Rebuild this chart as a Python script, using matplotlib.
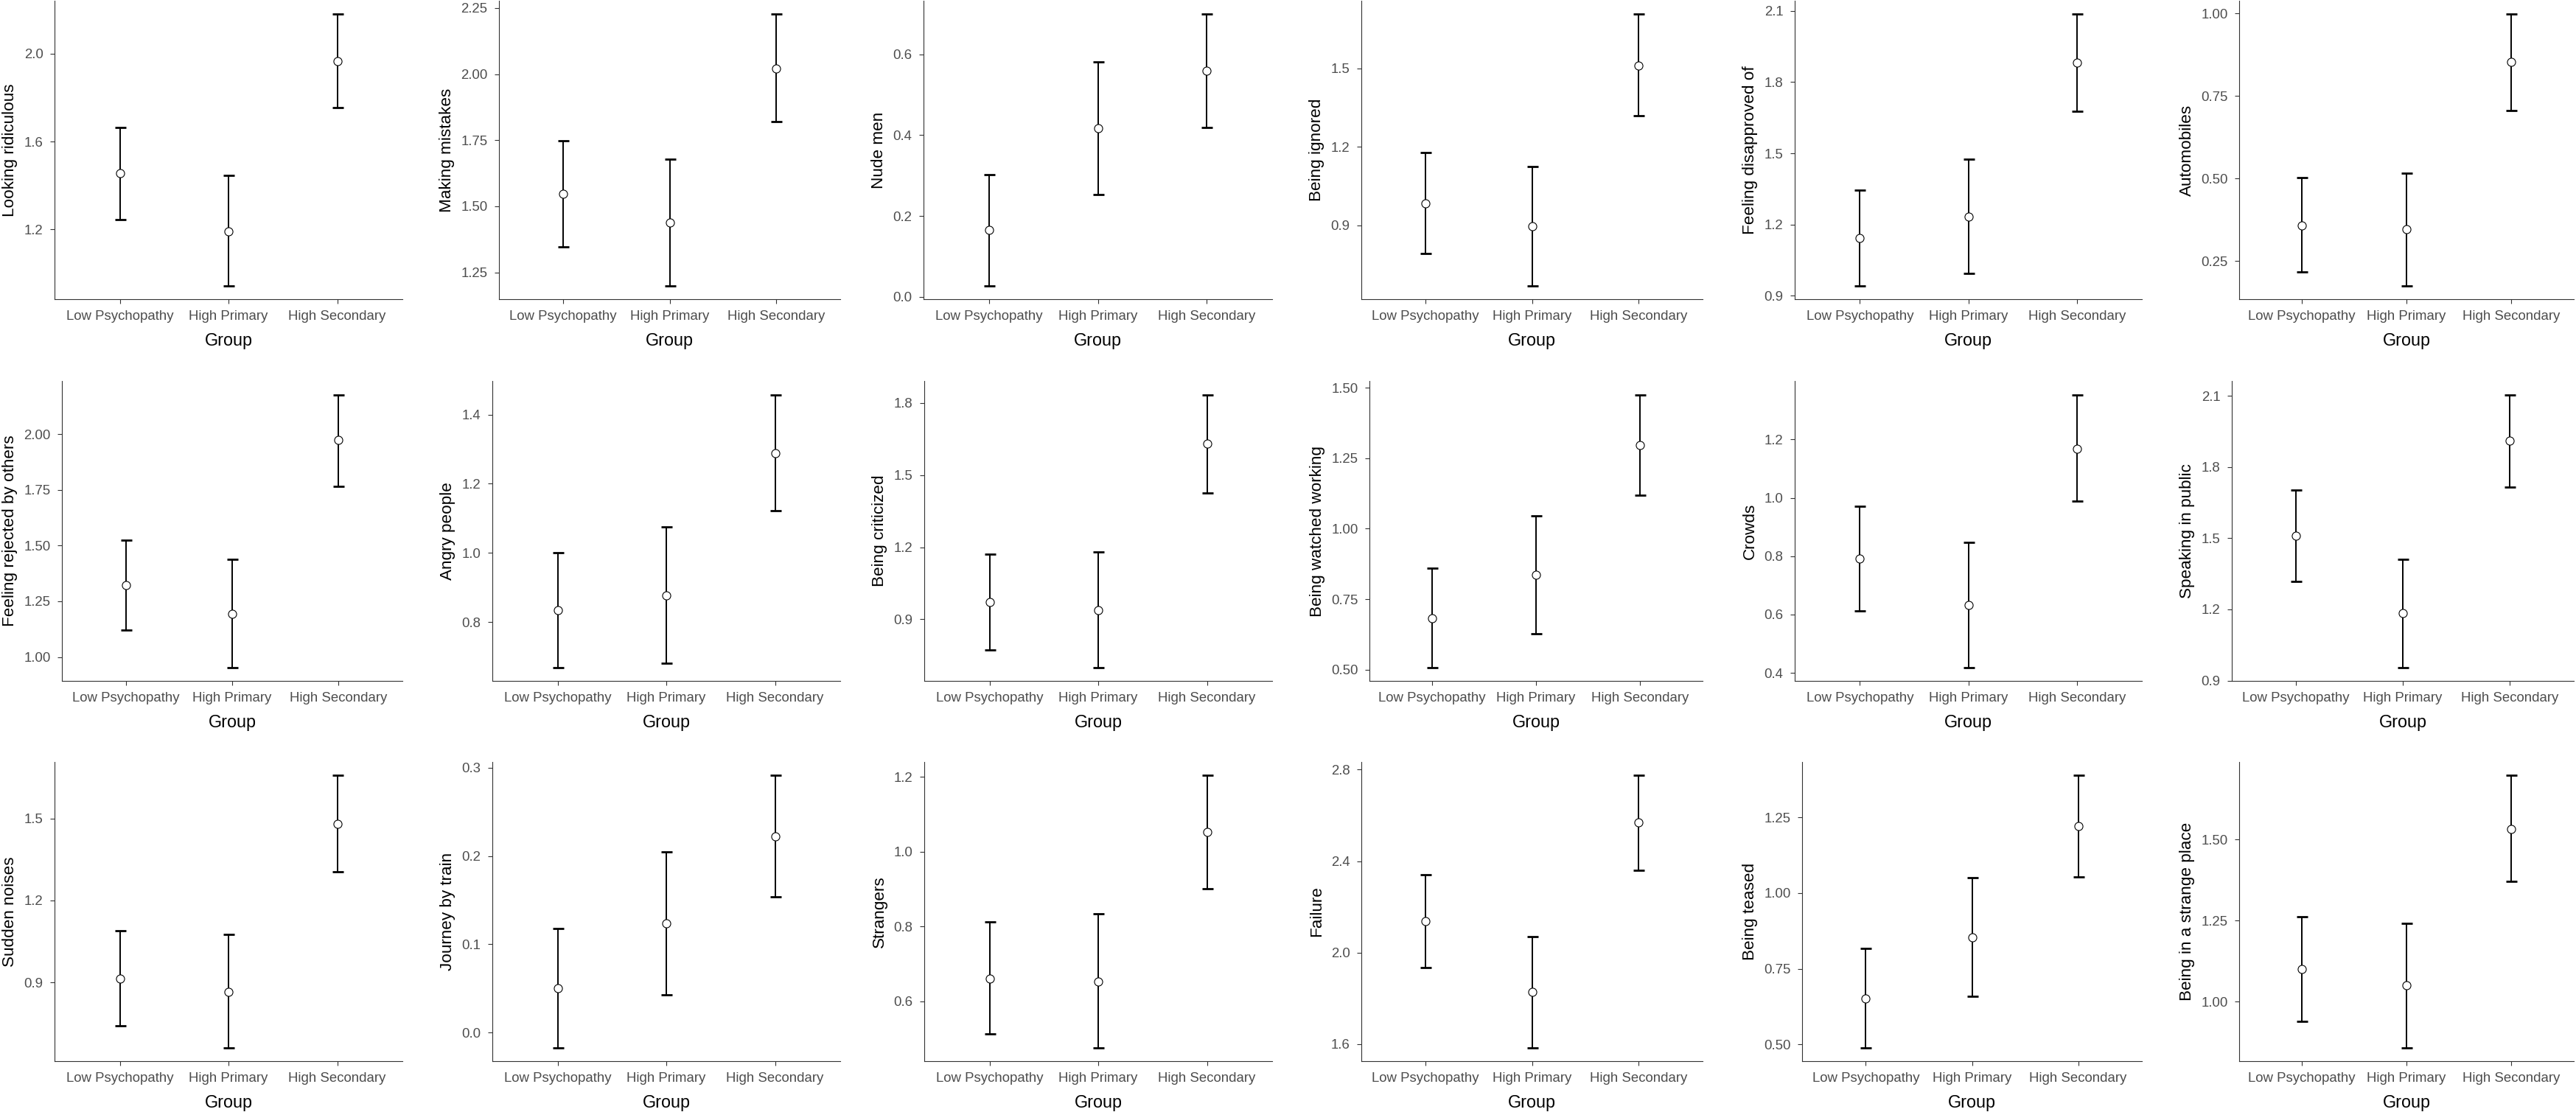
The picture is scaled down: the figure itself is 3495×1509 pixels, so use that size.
import matplotlib
matplotlib.use('Agg')
import matplotlib.pyplot as plt

plt.rcParams['font.family'] = ['Liberation Sans', 'DejaVu Sans']

groups = ['Low Psychopathy', 'High Primary', 'High Secondary']

items = ['Looking ridiculous', 'Making mistakes', 'Nude men', 'Being ignored',
         'Feeling disapproved of', 'Automobiles',
         'Feeling rejected by others', 'Angry people', 'Being criticized',
         'Being watched working', 'Crowds', 'Speaking in public',
         'Sudden noises', 'Journey by train', 'Strangers', 'Failure',
         'Being teased', 'Being in a strange place']

# Low Psychopathy: mean, lower, upper
mean_low = [1.455, 1.546, 0.165, 0.985, 1.144, 0.359,
            1.324, 0.834, 0.970, 0.683, 0.792, 1.510,
            0.914, 0.050, 0.661, 2.138, 0.653, 1.101]
lo_low = [1.245, 1.346, 0.028, 0.794, 0.942, 0.217,
          1.122, 0.669, 0.771, 0.508, 0.612, 1.319,
          0.741, -0.017, 0.513, 1.935, 0.490, 0.939]
hi_low = [1.665, 1.747, 0.303, 1.178, 1.345, 0.503,
          1.525, 1.001, 1.172, 0.859, 0.971, 1.703,
          1.089, 0.118, 0.813, 2.341, 0.818, 1.261]

# High Primary
mean_pri = [1.193, 1.439, 0.418, 0.898, 1.233, 0.346,
            1.195, 0.877, 0.939, 0.836, 0.633, 1.184,
            0.867, 0.124, 0.653, 1.828, 0.855, 1.050]
lo_pri = [0.945, 1.200, 0.254, 0.670, 0.995, 0.176,
          0.954, 0.681, 0.700, 0.627, 0.419, 0.956,
          0.662, 0.043, 0.476, 1.585, 0.660, 0.859]
hi_pri = [1.446, 1.678, 0.582, 1.126, 1.475, 0.517,
          1.438, 1.075, 1.180, 1.045, 0.848, 1.412,
          1.075, 0.205, 0.834, 2.070, 1.051, 1.242]

# High Secondary
mean_sec = [1.966, 2.021, 0.559, 1.510, 1.882, 0.852,
            1.973, 1.289, 1.631, 1.296, 1.169, 1.910,
            1.481, 0.222, 1.053, 2.568, 1.221, 1.533]
lo_sec = [1.753, 1.819, 0.419, 1.318, 1.677, 0.706,
          1.767, 1.122, 1.427, 1.118, 0.988, 1.716,
          1.306, 0.154, 0.901, 2.360, 1.054, 1.371]
hi_sec = [2.178, 2.226, 0.699, 1.706, 2.086, 0.997,
          2.177, 1.458, 1.835, 1.476, 1.354, 2.105,
          1.657, 0.291, 1.204, 2.774, 1.388, 1.697]

yticks = [['1.2', '1.6', '2.0'], ['1.25', '1.50', '1.75', '2.00', '2.25'],
          ['0.0', '0.2', '0.4', '0.6'], ['0.9', '1.2', '1.5'],
          ['0.9', '1.2', '1.5', '1.8', '2.1'], ['0.25', '0.50', '0.75', '1.00'],
          ['1.00', '1.25', '1.50', '1.75', '2.00'], ['0.8', '1.0', '1.2', '1.4'],
          ['0.9', '1.2', '1.5', '1.8'], ['0.50', '0.75', '1.00', '1.25', '1.50'],
          ['0.4', '0.6', '0.8', '1.0', '1.2'], ['0.9', '1.2', '1.5', '1.8', '2.1'],
          ['0.9', '1.2', '1.5'], ['0.0', '0.1', '0.2', '0.3'],
          ['0.6', '0.8', '1.0', '1.2'], ['1.6', '2.0', '2.4', '2.8'],
          ['0.50', '0.75', '1.00', '1.25'], ['1.00', '1.25', '1.50']]

W, H = 3495, 1509
fig = plt.figure(figsize=(W / 100, H / 100), dpi=100)

# panel frame in pixels
lefts = [[74, 677, 1253, 1847, 2435, 3038],
         [84, 668, 1254, 1858, 2435, 3028],
         [74, 668, 1254, 1847, 2445, 3038]]
rights = [546, 1140, 1726, 2310, 2906, 3492]
tops = [1, 517, 1034]
bottoms = [406, 924, 1440]

for i, item in enumerate(items):
    r, c = divmod(i, 6)
    x0 = lefts[r][c]
    ax = fig.add_axes([x0 / W, 1 - bottoms[r] / H,
                       (rights[c] - x0) / W, (bottoms[r] - tops[r]) / H])
    m = [mean_low[i], mean_pri[i], mean_sec[i]]
    lo = [lo_low[i], lo_pri[i], lo_sec[i]]
    hi = [hi_low[i], hi_pri[i], hi_sec[i]]
    xs = [1, 2, 3]
    yerr = [[m[k] - lo[k] for k in range(3)], [hi[k] - m[k] for k in range(3)]]
    ax.errorbar(xs, m, yerr=yerr, fmt='none', ecolor='black', elinewidth=1.4,
                capsize=5.4, capthick=2.0, zorder=2)
    ax.plot(xs, m, 'o', markersize=8, markerfacecolor='white',
            markeredgecolor='black', markeredgewidth=0.8, zorder=3)
    span = max(hi) - min(lo)
    ax.set_ylim(min(lo) - 0.05 * span, max(hi) + 0.05 * span)
    ax.set_xlim(0.4, 3.6)
    ax.set_xticks(xs)
    ax.set_xticklabels(groups)
    ax.set_yticks([float(t) for t in yticks[i]])
    ax.set_yticklabels(yticks[i])
    ax.tick_params(axis='both', labelsize=13.4, labelcolor='#4D4D4D',
                   color='#333333', length=4.6, width=0.8, pad=6.5)
    for s in ['top', 'right']:
        ax.spines[s].set_visible(False)
    for s in ['left', 'bottom']:
        ax.spines[s].set_linewidth(0.8)
        ax.spines[s].set_color('#333333')
    ax.set_xlabel('Group', fontsize=16.8, labelpad=9)
    ax.set_ylabel(item, fontsize=16.2, labelpad=6)

fig.savefig('out.png', dpi=100)
